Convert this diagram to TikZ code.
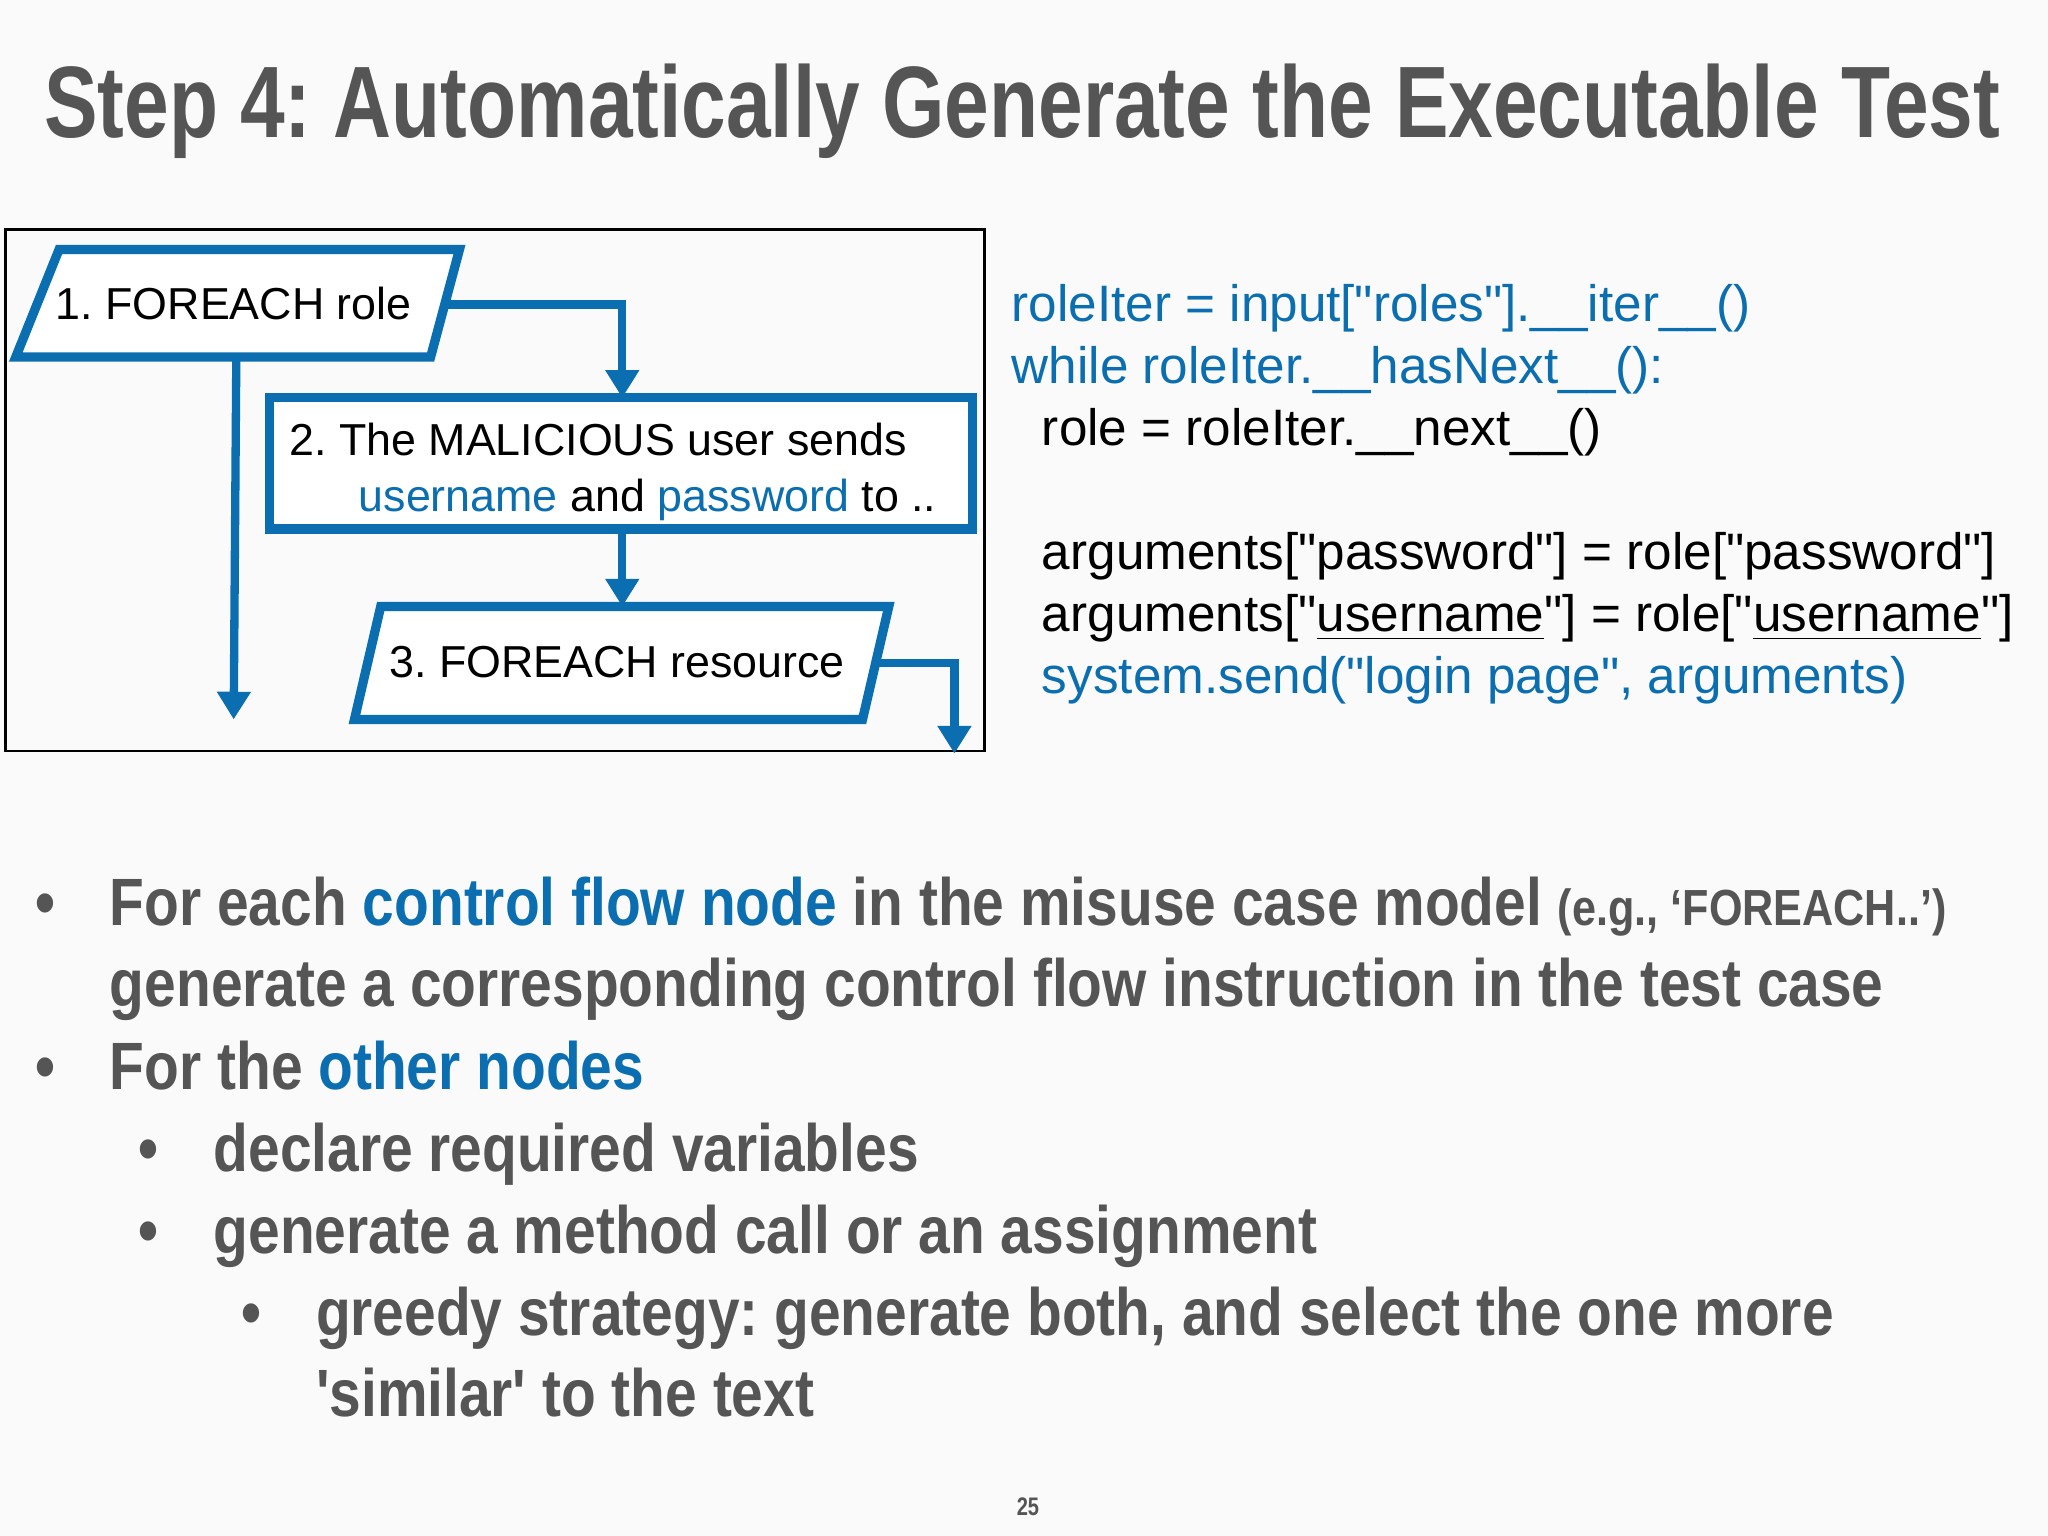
\documentclass[tikz,border=0pt]{standalone}
\usepackage{fontspec}
\setmainfont{Liberation Sans}[Ligatures=TeXOff]
\newfontfamily\cond[FakeStretch=0.79,Ligatures=TeXOff]{Liberation Sans}
\newfontfamily\condb[FakeStretch=0.85,Ligatures=TeXOff]{Liberation Sans}
\usetikzlibrary{arrows.meta}
\definecolor{tblue}{HTML}{0B6EB0}
\definecolor{tgray}{HTML}{555555}
\newcommand{\dq}{"}
\frenchspacing
\tikzset{
  flow/.style={draw=tblue,line width=2pt},
  conn/.style={draw=tblue,line width=1.8pt,-{Triangle[length=6pt,width=7pt]}},
  boxtxt/.style={font=\fontsize{9.7}{11}\selectfont,text=black},
  code/.style={font=\fontsize{11.1}{13}\selectfont,anchor=base west,inner sep=0pt},
  bul/.style={font=\condb\bfseries\fontsize{14.5}{17}\selectfont,text=tgray,anchor=base west,inner sep=0pt},
}
\begin{document}
\begin{tikzpicture}[x=0.01cm,y=-0.01cm]
\fill[white!98!black] (0,0) rectangle (1560,1170);
\useasboundingbox (0,0) rectangle (1560,1170);
\node[anchor=base west,inner sep=0pt,text=tgray,font=\cond\bfseries\fontsize{22}{26}\selectfont] (title) at (33,105) {Step 4: Automatically Generate the Executable Test};
\draw[black,line width=0.6pt] (4,175) rectangle (750,572);
% node 1
\draw[flow,fill=white] (12,272) -- (45,190) -- (350,190) -- (328,272) -- cycle;
\node[boxtxt] (n1) at (178,231) {1. FOREACH role};
\coordinate (n1r) at (338,232);
\coordinate (n1b) at (180,272);
% node 2
\draw[flow,fill=white] (205,303) rectangle (741,403);
\node[boxtxt,align=left,anchor=north west] (n2) at (208,310) {2. The MALICIOUS user sends\\[1pt]\hspace*{1.55em}\textcolor{tblue}{username} and \textcolor{tblue}{password} to ..};
\coordinate (n2t) at (474,303);
\coordinate (n2b) at (474,403);
% node 3
\draw[flow,fill=white] (270,548) -- (290,462) -- (677,462) -- (657,548) -- cycle;
\node[boxtxt] (n3) at (470,504) {3. FOREACH resource};
\coordinate (n3t) at (474,462);
\coordinate (n3r) at (665,505);
\coordinate (e1) at (178,548);
\coordinate (e3) at (727,574);
\draw[conn] (n1r) -| (n2t);
\draw[conn] (n1b) -- (e1);
\draw[conn] (n2b) -- (n3t);
\draw[conn] (n3r) -| (e3);
% code
\node[code,text=tblue] (c1) at (770,245) {roleIter = input[\dq roles\dq].\_\_iter\_\_()};
\node[code,text=tblue] (c2) at (770,292) {while roleIter.\_\_hasNext\_\_():};
\node[code] (c3) at (793,339) {role = roleIter.\_\_next\_\_()};
\node[code] (c4) at (793,434) {arguments[\dq password\dq] = role[\dq password\dq]};
\node[code] (c5) at (793,481) {arguments[\dq\underline{username}\dq] = role[\dq\underline{username}\dq]};
\node[code,text=tblue] (c6) at (793,528) {system.send(\dq login page\dq, arguments)};
% bullets
\foreach \x/\y [count=\i] in {26/705,26/830,105/892,105/955,183/1017}
  \node[bul] (b\i) at (\x,\y) {\textbullet};
\node[bul] (t1) at (83,705) {For each \textcolor{tblue}{control flow node} in the misuse case model {\fontsize{11}{13}\selectfont(e.g., ‘FOREACH..’)}};
\node[bul] (t2) at (83,767) {generate a corresponding control flow instruction in the test case};
\node[bul] (t3) at (83,830) {For the \textcolor{tblue}{other nodes}};
\node[bul] (t4) at (162,892) {declare required variables};
\node[bul] (t5) at (162,955) {generate a method call or an assignment};
\node[bul] (t6) at (240,1017) {greedy strategy: generate both, and select the one more};
\node[bul] (t7) at (240,1079) {'similar' to the text};
\node[font=\cond\bfseries\fontsize{5.5}{6}\selectfont,text=tgray] (pg) at (783,1148) {25};
\end{tikzpicture}
\end{document}
